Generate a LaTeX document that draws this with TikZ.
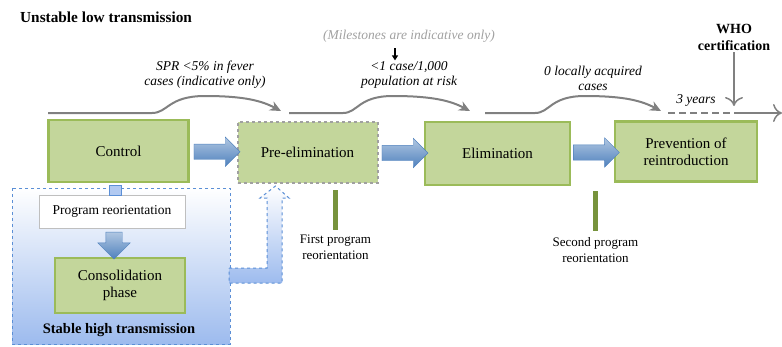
\documentclass[tikz,border=0pt]{standalone}
\usepackage{fontspec}
\setmainfont{Liberation Serif}
\usetikzlibrary{positioning}
\usetikzlibrary{calc}
\usetikzlibrary{shapes.arrows}
\usetikzlibrary{arrows.meta}
\definecolor{boxgreen}{HTML}{C3D69B}
\definecolor{boxedge}{HTML}{9BBB59}
\definecolor{bargreen}{HTML}{77933C}
\definecolor{arrowblue}{HTML}{4F81BD}
\definecolor{areablue}{HTML}{9DBBEE}
\definecolor{edgeblue}{HTML}{5B8FD6}
\definecolor{timegray}{HTML}{808080}
\definecolor{notegray}{HTML}{A0A0A0}
\tikzset{
    stage/.style = {rectangle, draw=boxedge, line width=2.5pt, fill=boxgreen, align=center, inner sep=0pt, font=\fontsize{15}{17}\selectfont},
    stagedash/.style = {stage, draw=notegray, dashed, line width=2pt},
    plainbox/.style = {rectangle, draw=black!25, fill=white, inner sep=0pt, font=\fontsize{13.5}{15}\selectfont},
    blockarrow/.style = {single arrow, draw=arrowblue, top color=arrowblue!45, bottom color=arrowblue, inner xsep=0pt, inner ysep=7.5pt, single arrow head extend=7pt, minimum height=46pt},
    gbar/.style = {rectangle, fill=bargreen, inner sep=0pt, minimum width=5pt, minimum height=40pt},
    note/.style = {align=center, inner sep=1pt, font=\fontsize{13}{16}\selectfont},
    mile/.style = {align=center, inner sep=1pt, font=\fontsize{13.5}{15}\selectfont\itshape},
    heading/.style = {inner sep=0pt, font=\fontsize{15.3}{17}\selectfont\bfseries},
    timeline/.style = {draw=timegray, line width=2pt},
    timearc/.style = {timeline, -{Stealth[length=11pt,width=10pt]}},
    region/.style = {draw=edgeblue, dashed, line width=1pt, top color=white, bottom color=areablue}
}
\begin{document}
\begin{tikzpicture}[x=1pt,y=-1pt]
\useasboundingbox (0,0) rectangle (782,346);
%
\draw[region] (12,188) rectangle (230,344);
\node[heading,anchor=west] (title) at (20,17) {Unstable low transmission};
\node[heading,font=\fontsize{14.5}{17}\selectfont\bfseries] (high) at (119,330) {Stable high transmission};
%
\node[stage,minimum width=140,minimum height=62] (control) at (118.5,151) {Control};
\node[stagedash,minimum width=140,minimum height=61] (preelim) at (307.5,152.5) {Pre-elimination};
\node[stage,minimum width=145,minimum height=63] (elim) at (497.5,153.5) {Elimination};
\node[stage,minimum width=142,minimum height=60] (prev) at (686,151.5) {Prevention of\\reintroduction};
\node[plainbox,minimum width=146,minimum height=33] (reorient) at (112,211.5) {Program reorientation};
\node[stage,minimum width=130,minimum height=55] (consol) at (120,285.5) {Consolidation\\phase};
%
\node[blockarrow] (a1) at ($(control.east)!0.5!(preelim.west)$) {};
\node[blockarrow] (a2) at ($(preelim.east)!0.5!(elim.west)$) {};
\node[blockarrow] (a3) at ($(elim.east)!0.5!(prev.west)$) {};
\node[blockarrow,shape border rotate=270,minimum height=27pt,inner sep=8pt,single arrow head extend=8pt] (a4) at (114,241.5) {};
\draw[draw=edgeblue, fill=areablue!80, line width=0.6pt] ($(control.south)+(-9,2)$) rectangle ($(reorient.north)+(9,0)$);
%
% dashed way back from consolidation
\draw[draw=edgeblue, dashed, line width=1pt, top color=white, bottom color=areablue]
  (229,268) -- (267,268) -- (267,198) -- (260,198) -- ($(preelim.south)+(-32,2)$)
  -- (289,198) -- (282,198) -- (282,283) -- (229,283) -- cycle;
%
\node[gbar] (bar1) at (335.5,210) {};
\node[gbar] (bar2) at (595.5,211) {};
\node[note,below=3pt of bar1] (first) {First program\\reorientation};
\node[note,below=5pt of bar2] (second) {Second program\\reorientation};
%
% milestones along the top
\coordinate (t1s) at (48,113);
\coordinate (t1c) at (152,113);
\coordinate (t1e) at (281,111);
\coordinate (t2s) at (289,113);
\coordinate (t2c) at (343,113);
\coordinate (t2e) at (470,111);
\coordinate (t3s) at (485,113);
\coordinate (t3c) at (535,113);
\coordinate (t3e) at (661,111);
\coordinate (t4s) at (668,113);
\coordinate (t4c) at (736,113);
\coordinate (t4e) at (782,113);
\draw[timearc] (t1s) -- (t1c) .. controls (168,113) and (168,96) .. (205,96) .. controls (245,96) and (262,101) .. (t1e);
\draw[timearc] (t2s) -- (t2c) .. controls (358,113) and (358,96) .. (393,96) .. controls (433,96) and (451,101) .. (t2e);
\draw[timearc] (t3s) -- (t3c) .. controls (550,113) and (550,96) .. (585,96) .. controls (625,96) and (642,101) .. (t3e);
\draw[timeline, dash pattern=on 7pt off 4pt] (t4s) -- (t4c);
\draw[timeline, line width=1.5pt, -{To[length=9pt,width=18pt]}] (t4c) -- (t4e);
%
\node[mile] (spr) at (205,75) {SPR <5\% in fever\\cases (indicative only)};
\node[mile,text=notegray] (indic) at (409,36) {(Milestones are indicative only)};
\node[mile] (onecase) at (409,75) {<1 case/1,000\\population at risk};
\node[mile] (zero) at (593,78) {0 locally acquired\\cases};
\node[mile] (years) at (696,100) {3 years};
\node[heading,align=center,font=\fontsize{14}{17}\selectfont\bfseries] (who) at (734,37) {WHO\\certification};
\draw[-{Triangle[length=5pt,width=6pt]}, line width=2.5pt] (indic.south -| 395,0) ++(0,5) coordinate (m0) (m0) -- (onecase.north -| m0);
\draw[draw=timegray, line width=1.5pt, -{To[length=9pt,width=18pt]}] (who.south) ++(0,2) coordinate (w0) (w0) -- ($(who.south |- t4c)+(0,-7)$);
\end{tikzpicture}
\end{document}
